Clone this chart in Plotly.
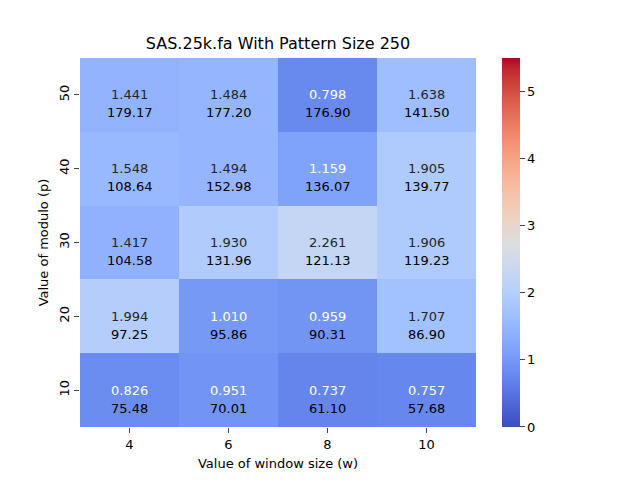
import plotly.graph_objects as go

# data
windows = ["4", "6", "8", "10"]
modulos = ["10", "20", "30", "40", "50"]  # bottom to top

# colour value (first line of each cell)
ratio = [
    [0.826, 0.951, 0.737, 0.757],
    [1.994, 1.010, 0.959, 1.707],
    [1.417, 1.930, 2.261, 1.906],
    [1.548, 1.494, 1.159, 1.905],
    [1.441, 1.484, 0.798, 1.638],
]
# second line of each cell
timing = [
    [75.48, 70.01, 61.10, 57.68],
    [97.25, 95.86, 90.31, 86.90],
    [104.58, 131.96, 121.13, 119.23],
    [108.64, 152.98, 136.07, 139.77],
    [179.17, 177.20, 176.90, 141.50],
]

# matplotlib coolwarm
cw = [
    (59, 76, 192), (68, 90, 204), (77, 104, 215), (87, 117, 225), (98, 130, 234),
    (108, 142, 241), (119, 154, 247), (130, 165, 251), (141, 176, 254), (152, 185, 255),
    (163, 194, 255), (174, 201, 253), (184, 208, 249), (194, 213, 244), (204, 217, 238),
    (213, 219, 230), (221, 221, 221), (229, 216, 209), (236, 211, 197), (241, 204, 184),
    (245, 196, 172), (247, 187, 159), (247, 177, 147), (247, 166, 134), (244, 154, 123),
    (241, 141, 111), (236, 127, 99), (229, 112, 89), (222, 96, 77), (213, 80, 66),
    (203, 62, 56), (192, 40, 47), (180, 4, 38),
]
coolwarm = [[i / (len(cw) - 1), "rgb(%d,%d,%d)" % c] for i, c in enumerate(cw)]

xs = list(range(len(windows)))
ys = list(range(len(modulos)))

fig = go.Figure()
fig.add_trace(go.Heatmap(
    x=xs, y=ys, z=ratio,
    zmin=0, zmax=5.5, colorscale=coolwarm,
    hoverinfo="skip",
    colorbar=dict(
        thickness=18, len=0.769, lenmode="fraction", xpad=0, ypad=0,
        x=0.7719, xanchor="left", y=0.5115, yanchor="middle",
        outlinewidth=0, ticks="outside", ticklen=5,
        tickvals=[0, 1, 2, 3, 4, 5],
        tickfont=dict(size=13, color="black"),
    ),
))

for i in ys:
    for j in xs:
        v = ratio[i][j]
        fig.add_annotation(x=j, y=i, text="%.3f" % v, showarrow=False,
                           font=dict(size=13, color="white" if v < 1.3 else "#262626"))
        fig.add_annotation(x=j, y=i, text="%.2f" % timing[i][j], showarrow=False,
                           yshift=-18, font=dict(size=13, color="black"))

fig.update_layout(
    width=640, height=480,
    margin=dict(l=0, r=0, t=0, b=0, autoexpand=False),
    paper_bgcolor="white", plot_bgcolor="white",
    font=dict(family="DejaVu Sans", color="black"),
    title=dict(text="SAS.25k.fa With Pattern Size 250", x=0.4219, xanchor="center",
               y=0.927, yanchor="middle", font=dict(size=16)),
    xaxis=dict(domain=[0.1125, 0.73125], range=[-0.5, 3.5], tickvals=xs, ticktext=windows,
               ticks="outside", ticklen=5, showgrid=False, zeroline=False,
               tickfont=dict(size=13), automargin=False,
               title=dict(text="Value of window size (w)", font=dict(size=13), standoff=8)),
    yaxis=dict(domain=[0.1271, 0.8958], range=[-0.5, 4.5], tickvals=ys, ticktext=modulos,
               ticks="outside", ticklen=5, showgrid=False, zeroline=False,
               tickangle=-90, tickfont=dict(size=13), automargin=False,
               title=dict(text="Value of modulo (p)", font=dict(size=13), standoff=5)),
    showlegend=False,
)

fig.write_html("out.html")
